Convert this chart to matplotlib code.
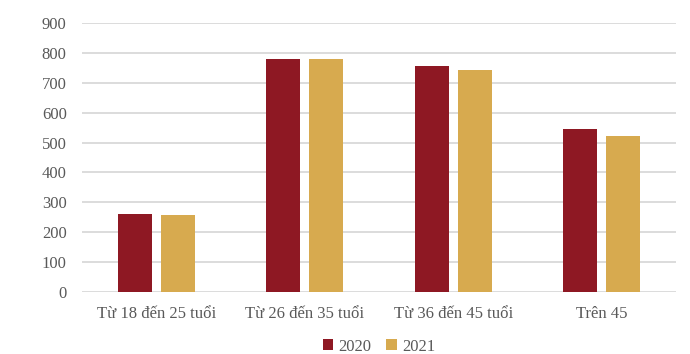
#!/usr/bin/env python3
"""Grouped bars by age band, 2020 vs 2021."""

import matplotlib.pyplot as plt
import numpy as np

categories = ["Từ 18 đến 25 tuổi", "Từ 26 đến 35 tuổi", "Từ 36 đến 45 tuổi", "Trên 45"]
years = ["2020", "2021"]
values_2020 = [260, 781, 756, 546]
values_2021 = [258, 781, 744, 522]
y_ticks = list(range(0, 1000, 100))

plt.rcParams["font.family"] = ["Liberation Serif", "DejaVu Serif"]

fig = plt.figure(figsize=(6.9, 3.54), dpi=100)
ax = fig.add_axes([0.1188, 0.175, 0.861, 0.76])

x = np.arange(len(categories))
width = 0.229
offset = 0.1435
ax.bar(x - offset, values_2020, width, color="#8E1823", label=years[0], zorder=3)
ax.bar(x + offset, values_2021, width, color="#D7AA4F", label=years[1], zorder=3)

ax.set_xlim(-0.5, len(categories) - 0.5)
ax.set_ylim(0, 900)
ax.set_yticks(y_ticks)
ax.set_xticks(x)
ax.set_xticklabels(categories)
ax.grid(axis="y", color="#d9d9d9", linewidth=1.3, zorder=0)
for side in ax.spines.values():
    side.set_visible(False)
ax.tick_params(axis="both", length=0, labelsize=12, colors="#595959")
ax.tick_params(axis="y", pad=11)
ax.tick_params(axis="x", pad=10)

ax.legend(
    loc="center",
    bbox_to_anchor=(0.5, -0.203),
    ncol=2,
    frameon=False,
    fontsize=12,
    handlelength=0.65,
    handleheight=0.65,
    handletextpad=0.3,
    columnspacing=0.9,
    labelcolor="#595959",
    borderpad=0.2,
)

fig.savefig("out.png", dpi=100)
